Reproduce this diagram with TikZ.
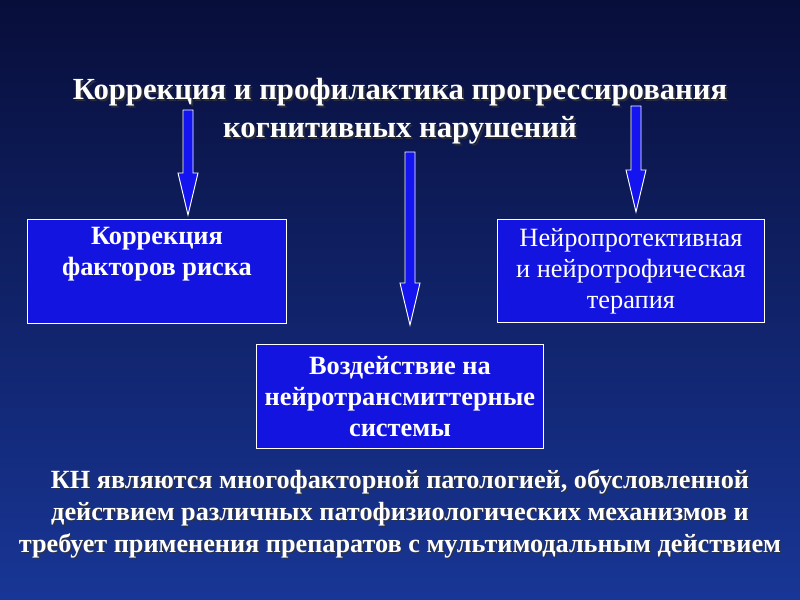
\documentclass[tikz,border=0pt]{standalone}
\usepackage{fontspec}
\setmainfont{Liberation Serif}
\usetikzlibrary{positioning,calc}
\definecolor{navytop}{RGB}{8,14,58}
\definecolor{navybot}{RGB}{24,54,150}
\definecolor{boxblue}{RGB}{20,20,225}
\definecolor{arrowblue}{RGB}{20,20,240}
\tikzset{
  headtext/.style={text=white,font=\bfseries\fontsize{26.2}{32}\selectfont,align=center},
  notetext/.style={text=white,font=\bfseries\fontsize{22.4}{27}\selectfont,align=center},
  boxtext/.style={draw=white,fill=boxblue,text=white,line width=0.8pt,
    align=center,font=\fontsize{22.5}{26.4}\selectfont,anchor=north west,inner sep=0pt},
  boldbox/.style={boxtext,font=\bfseries\fontsize{22.5}{26.4}\selectfont},
  bigarrow/.style={draw=white,fill=arrowblue,line width=0.8pt},
  shadowtext/.style={text=black!80,opacity=0.8}
}
\newcommand{\downarrowshape}[2]{%
  \draw[bigarrow] ($(#1)+(-5,0)$) -- ($(#1)+(5,0)$) -- ($(#2)+(5,-42)$)
    -- ($(#2)+(10,-42)$) -- (#2) -- ($(#2)+(-10,-42)$) -- ($(#2)+(-5,-42)$) -- cycle;}

\begin{document}
\begin{tikzpicture}[x=0.03cm,y=-0.03cm]
  \shade[top color=navytop,bottom color=navybot] (0,0) rectangle (800,600);
  \useasboundingbox (0,0) rectangle (800,600);

  % title
  \node[headtext,shadowtext] at (402,113) {Коррекция и профилактика прогрессирования\\когнитивных нарушений};
  \node[headtext] (title) at (400,111) {Коррекция и профилактика прогрессирования\\когнитивных нарушений};

  % boxes
  \node[boldbox,minimum width=259*0.03cm,minimum height=104*0.03cm]
    (risk) at (27,219) {Коррекция\\факторов риска\\\strut};
  \node[boxtext,minimum width=267*0.03cm,minimum height=103*0.03cm] (neuro) at (497,219)
    {Нейропротективная\\ и нейротрофическая\\терапия};
  \node[boldbox,minimum width=287*0.03cm,minimum height=104*0.03cm] (trans) at (256,344)
    {Воздействие на\\нейротрансмиттерные\\системы};

  % arrows
  \coordinate (a1s) at (188,110);
  \coordinate (a1e) at (188,215);
  \coordinate (a2s) at (410,152);
  \coordinate (a2e) at (410,325);
  \coordinate (a3s) at (636,106);
  \coordinate (a3e) at (636,212);
  \downarrowshape{a1s}{a1e}
  \downarrowshape{a2s}{a2e}
  \downarrowshape{a3s}{a3e}

  % bottom note
  \node[notetext,shadowtext] at (401.5,515.5)
    {КН являются многофакторной патологией, обусловленной\\действием различных патофизиологических механизмов и\\требует применения препаратов с мультимодальным действием};
  \node[notetext] (note) at (400,514)
    {КН являются многофакторной патологией, обусловленной\\действием различных патофизиологических механизмов и\\требует применения препаратов с мультимодальным действием};
\end{tikzpicture}
\end{document}
